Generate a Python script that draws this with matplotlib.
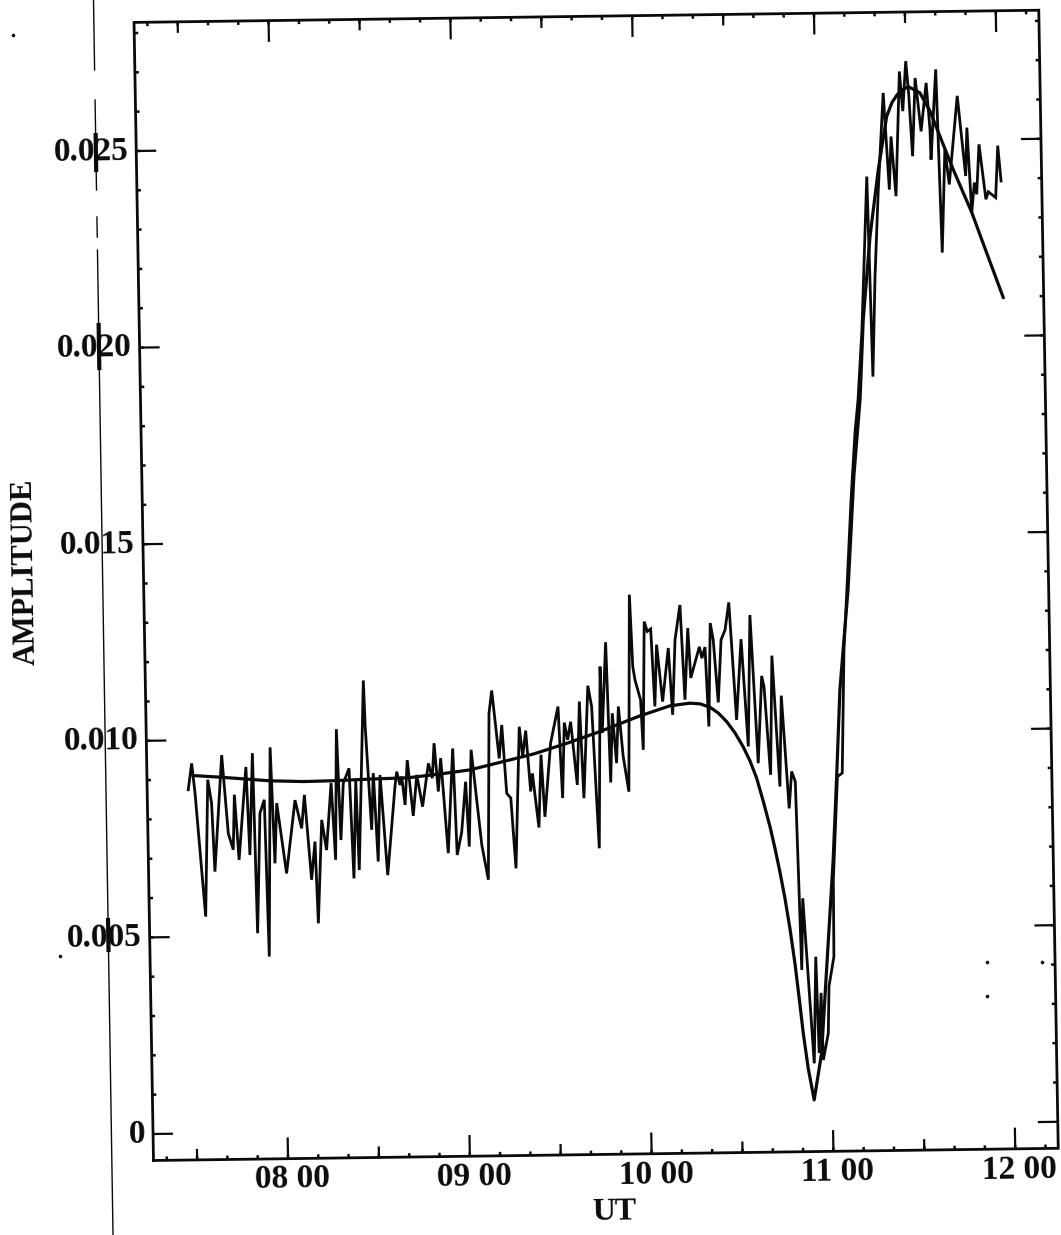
import numpy as np
from matplotlib import pyplot as plt
from matplotlib.lines import Line2D
from matplotlib.transforms import Affine2D

# noisy trace, hours UT / amplitude in 1e-3
raw_hours = [
    7.486, 7.507, 7.523, 7.570, 7.594, 7.613, 7.625, 7.673, 7.702, 7.728,
    7.739, 7.759, 7.805, 7.819, 7.842, 7.854, 7.878, 7.903, 7.916, 7.940,
    7.956, 7.971, 8.019, 8.072, 8.106, 8.124, 8.156, 8.178, 8.189, 8.217,
    8.241, 8.272, 8.290, 8.306, 8.321, 8.339, 8.372, 8.389, 8.408, 8.419,
    8.459, 8.465, 8.491, 8.505, 8.524, 8.542, 8.575, 8.623, 8.634, 8.651,
    8.661, 8.677, 8.693, 8.721, 8.744, 8.773, 8.809, 8.829, 8.842, 8.861,
    8.877, 8.910, 8.944, 8.959, 8.986, 9.012, 9.026, 9.045, 9.095, 9.128,
    9.147, 9.164, 9.199, 9.216, 9.237, 9.259, 9.281, 9.312, 9.328, 9.347,
    9.369, 9.380, 9.411, 9.429, 9.445, 9.483, 9.527, 9.544, 9.560, 9.577,
    9.595, 9.626, 9.645, 9.661, 9.693, 9.712, 9.741, 9.762, 9.768, 9.795,
    9.810, 9.825, 9.844, 9.859, 9.881, 9.909, 9.930, 9.942, 9.953, 9.982,
    9.992, 10.009, 10.025, 10.044, 10.060, 10.075, 10.103, 10.139, 10.157, 10.177,
    10.207, 10.226, 10.248, 10.260, 10.310, 10.323, 10.341, 10.355, 10.372, 10.387,
    10.409, 10.430, 10.453, 10.476, 10.508, 10.540, 10.570, 10.591, 10.623, 10.650,
    10.662, 10.690, 10.708, 10.740, 10.756, 10.789, 10.806, 10.825, 10.843, 10.855,
    10.903, 10.921, 10.931, 10.947, 10.953, 10.983, 10.991, 11.021, 11.025, 11.057,
    11.084, 11.105, 11.125, 11.158, 11.186, 11.206, 11.234, 11.275, 11.290, 11.311,
    11.337, 11.373, 11.398, 11.412, 11.434, 11.464, 11.479, 11.500, 11.513, 11.529,
    11.550, 11.578, 11.610, 11.627, 11.630, 11.664, 11.683, 11.707, 11.728, 11.780,
    11.819, 11.830, 11.849, 11.866, 11.878, 11.895, 11.928, 11.942, 11.982, 11.998,
    12.013,
]
raw_amp = [
    8.74, 9.41, 8.65, 5.51, 8.99, 8.39, 6.65, 9.61, 7.62, 7.20,
    8.60, 6.94, 9.30, 7.06, 9.65, 5.07, 8.12, 8.46, 4.47, 9.79,
    6.84, 8.37, 6.58, 8.44, 7.72, 8.57, 6.41, 7.38, 5.30, 7.93,
    7.16, 8.86, 6.91, 10.23, 7.41, 8.85, 9.23, 6.43, 8.93, 6.64,
    11.46, 10.29, 7.66, 9.10, 6.85, 9.05, 6.50, 8.75, 9.13, 8.79,
    9.00, 8.28, 9.42, 8.00, 9.04, 8.23, 9.33, 8.95, 9.84, 8.61,
    9.46, 7.04, 9.70, 6.99, 7.58, 8.85, 7.20, 9.66, 7.24, 6.35,
    10.58, 11.16, 9.43, 10.28, 8.54, 8.42, 6.63, 10.23, 9.47, 10.13,
    8.58, 9.04, 7.66, 9.51, 7.93, 9.80, 10.73, 8.40, 10.32, 9.88,
    10.34, 8.73, 10.85, 8.39, 11.25, 10.72, 7.11, 11.73, 10.04, 12.35,
    8.78, 10.54, 9.27, 10.71, 9.44, 8.54, 13.55, 11.72, 11.38, 10.87,
    9.60, 12.86, 12.61, 12.67, 10.70, 12.27, 10.82, 12.18, 10.48, 12.39,
    13.27, 10.86, 12.68, 11.41, 12.20, 11.91, 12.19, 10.17, 12.80, 12.37,
    10.78, 12.37, 12.62, 13.32, 10.33, 12.38, 9.65, 12.99, 9.22, 11.44,
    11.16, 8.92, 11.95, 8.62, 10.93, 8.06, 9.00, 8.74, 3.95, 5.77,
    1.57, 4.28, 1.83, 3.36, 1.65, 2.33, 3.52, 4.28, 6.23, 8.85,
    8.94, 12.07, 13.47, 15.88, 17.59, 18.43, 20.20, 24.10, 19.01, 21.56,
    23.76, 26.22, 23.76, 25.11, 23.59, 26.76, 25.75, 27.02, 26.21, 24.60,
    26.59, 25.23, 26.46, 25.28, 24.51, 26.80, 22.14, 24.77, 23.87, 26.12,
    24.08, 25.31, 23.15, 23.91, 23.61, 24.88, 23.48, 23.67, 23.52, 24.84,
    23.94,
]

# smooth fitted curve
fit_hours = [
    7.515, 7.662, 7.936, 8.119, 8.284, 8.488, 8.697, 8.899, 9.037, 9.203,
    9.387, 9.571, 9.756, 9.968, 10.143, 10.253, 10.308, 10.363, 10.408, 10.453,
    10.498, 10.542, 10.578, 10.613, 10.647, 10.682, 10.707, 10.732, 10.757, 10.782,
    10.806, 10.829, 10.845, 10.869, 10.899, 10.944, 10.992, 11.026, 11.053, 11.079,
    11.133, 11.176, 11.217, 11.242, 11.287, 11.339, 11.390, 11.420, 11.450, 11.482,
    11.512, 11.575, 11.629, 11.681, 11.751, 11.849, 11.927, 12.014,
]
fit_amp = [
    9.10, 9.05, 8.94, 8.91, 8.92, 8.95, 8.97, 9.07, 9.15, 9.33,
    9.53, 9.79, 10.08, 10.45, 10.71, 10.77, 10.75, 10.66, 10.51, 10.29,
    10.00, 9.64, 9.28, 8.84, 8.25, 7.60, 7.05, 6.45, 5.78, 5.00,
    4.12, 3.10, 2.35, 1.45, 0.64, 1.82, 4.70, 6.74, 8.85, 11.06,
    13.60, 16.50, 18.43, 20.46, 22.57, 24.27, 25.62, 25.97, 26.17, 26.30,
    26.37, 26.21, 25.74, 25.10, 24.25, 23.15, 22.12, 20.98,
]

x_major = [8, 9, 10, 11, 12]
x_labels = ['08 00', '09 00', '10 00', '11 00', '12 00']
y_major = [0, 0.005, 0.010, 0.015, 0.020, 0.025]
y_labels = ['0', '0.005', '0.010', '0.015', '0.020', '0.025']

# scanned page: dust and the stray line left of the axis (page pixels)
stray_runs = [(0, 70), (100, 190), (217, 237), (250, 1235)]
stray_blobs = [(135, 170), (325, 368), (920, 950)]
specks_x = [13, 60, 987, 987, 1042]
specks_y = [35, 956, 962, 996, 962]

W, H = 1061, 1235
XMIN, XMAX = 7.26, 12.2365
YMIN, YMAX = -0.000674, 0.02827
INK = '#0a0a0a'
FONT = 'Liberation Serif'

plt.rcParams['font.family'] = FONT

fig = plt.figure(figsize=(W / 100, H / 100), dpi=100)
left, bottom = 153.5, H - 1160.5
width = (XMAX - XMIN) * 181.8
height = (YMAX - YMIN) * 39320
ax = fig.add_axes([left / W, bottom / H, width / W, height / H])
ax.set_xlim(XMIN, XMAX)
ax.set_ylim(YMIN, YMAX)
ax.axis('off')

# the page was scanned slightly crooked, so everything goes through a shear
shear = (Affine2D().translate(-left, -bottom)
         + Affine2D(np.array([[1, -0.0171, 0], [0.0135, 1, 0], [0, 0, 1]]))
         + Affine2D().translate(left, bottom))
tilted = ax.transData + shear
page = Affine2D().scale(1, -1).translate(0, H)

# frame
ax.plot([XMIN, XMAX, XMAX, XMIN, XMIN], [YMIN, YMIN, YMAX, YMAX, YMIN],
        color=INK, lw=2.0, transform=tilted, clip_on=False, solid_joinstyle='miter')


def x_ticks(values, length, lw):
    ax.vlines(values, YMIN, YMIN + length, colors=INK, lw=lw, transform=tilted, clip_on=False)
    ax.vlines(values, YMAX - length, YMAX, colors=INK, lw=lw, transform=tilted, clip_on=False)


def y_ticks(values, length, lw):
    ax.hlines(values, XMIN, XMIN + length, colors=INK, lw=lw, transform=tilted, clip_on=False)
    ax.hlines(values, XMAX - length, XMAX, colors=INK, lw=lw, transform=tilted, clip_on=False)


minutes = np.arange(7 * 6 + 2, 12 * 6 + 2) / 6
x_ticks(minutes, 0.0001, 1.8)
x_ticks(np.arange(7.5, 12.5, 1), 0.00028, 1.6)
x_ticks(x_major, 0.00054, 1.6)
y_ticks(np.arange(1, 29) * 0.001, 0.022, 1.8)
y_ticks(y_major, 0.11, 1.6)

# data
ax.plot(raw_hours, np.array(raw_amp) * 1e-3, color=INK, lw=2.0, transform=tilted,
        clip_on=False, solid_joinstyle='miter')
ax.plot(fit_hours, np.array(fit_amp) * 1e-3, color=INK, lw=2.3, transform=tilted,
        clip_on=False)

# labels
text_style = dict(transform=tilted, fontweight='bold', color=INK, family=FONT,
                  rotation_mode='anchor')
for val, lab in zip(y_major, y_labels):
    ax.text(XMIN - 0.045, val, lab, ha='right', va='center', rotation=0.8, fontsize=24, **text_style)
for val, lab in zip(x_major, x_labels):
    ax.text(val + 0.022, YMIN - 0.00053, lab, ha='center', va='center', rotation=0.8, fontsize=24, **text_style)
ax.text(9.79, -0.00215, 'UT', ha='center', va='center', rotation=0.8, fontsize=23, **text_style)
ax.text(6.61, 0.01434, 'AMPLITUDE', ha='center', va='center', rotation=91, fontsize=22, **text_style)


def stray_x(y):
    return 93.5 + 0.0158 * y


for y0, y1 in stray_runs:
    fig.add_artist(Line2D([stray_x(y0), stray_x(y1)], [y0, y1], color=INK, lw=1.0, transform=page))
for y0, y1 in stray_blobs:
    fig.add_artist(Line2D([stray_x(y0), stray_x(y1)], [y0, y1], color=INK, lw=3.0, transform=page))
fig.add_artist(Line2D(specks_x, specks_y, ls='none', marker='o', ms=2.6, color=INK, mew=0, transform=page))

fig.savefig('out.png', dpi=100, facecolor='white')
